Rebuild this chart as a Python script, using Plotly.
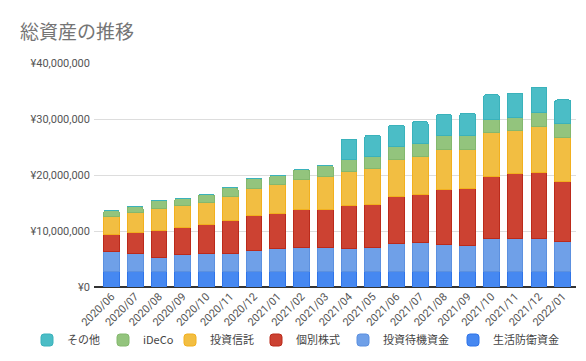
import plotly.graph_objects as go

months = ["2020/06", "2020/07", "2020/08", "2020/09", "2020/10", "2020/11", "2020/12",
          "2021/01", "2021/02", "2021/03", "2021/04", "2021/05", "2021/06", "2021/07",
          "2021/08", "2021/09", "2021/10", "2021/11", "2021/12", "2022/01"]

# values in yen
seikatsu = [2.75e6] * 20
taiki = [3.55e6, 3.32e6, 2.45e6, 3.02e6, 3.32e6, 3.32e6, 3.85e6, 4.09e6, 4.25e6, 4.25e6,
         4.21e6, 4.39e6, 4.95e6, 5.15e6, 4.80e6, 4.75e6, 6.00e6, 6.00e6, 6.00e6, 5.45e6]
kobetsu = [3.10e6, 3.73e6, 4.90e6, 4.93e6, 5.18e6, 5.73e6, 6.20e6, 6.36e6, 6.90e6, 6.90e6,
           7.64e6, 7.61e6, 8.40e6, 8.60e6, 9.95e6, 10.05e6, 11.05e6, 11.45e6, 11.75e6, 10.70e6]
toshin = [3.20e6, 3.50e6, 3.90e6, 3.90e6, 3.80e6, 4.30e6, 4.75e6, 5.10e6, 5.30e6, 5.80e6,
          6.10e6, 6.50e6, 6.75e6, 6.80e6, 7.10e6, 7.05e6, 7.75e6, 7.70e6, 8.10e6, 7.80e6]
ideco = [1.00e6, 1.00e6, 1.40e6, 1.20e6, 1.45e6, 1.60e6, 1.75e6, 1.60e6, 1.80e6, 2.00e6,
         2.10e6, 2.05e6, 2.20e6, 2.30e6, 2.40e6, 2.50e6, 2.45e6, 2.45e6, 2.65e6, 2.50e6]
sonota = [0, 0, 0, 0, 0, 0, 0, 0, 0, 0,
          3.60e6, 3.80e6, 3.85e6, 3.90e6, 3.80e6, 3.90e6, 4.30e6, 4.25e6, 4.45e6, 4.20e6]

y_tickvals = [0, 1e7, 2e7, 3e7, 4e7]
y_ticktext = ["¥0", "¥10,000,000", "¥20,000,000", "¥30,000,000", "¥40,000,000"]

series = [
    ("生活防衛資金", seikatsu, "#4688F1", "#2F74E8"),
    ("投資待機資金", taiki, "#6FA0E8", "#5C90DF"),
    ("個別株式", kobetsu, "#CC4232", "#BB2A1A"),
    ("投資信託", toshin, "#F2BE42", "#F2B01E"),
    ("iDeCo", ideco, "#93C47D", "#84B86E"),
    ("その他", sonota, "#4BBDC6", "#3AB2BB"),
]
# left x (px) of each legend swatch, in the same order as series
legend_left = [470, 360, 273, 187, 120, 44]

fig = go.Figure()
legend_layout = {}
for i, ((name, vals, col, line), lx) in enumerate(zip(series, legend_left)):
    key = "legend" if i == 0 else f"legend{i + 1}"
    fig.add_trace(go.Bar(
        x=months, y=vals, name=name, legend=key,
        marker=dict(color=col, line=dict(color=line, width=1)),
        hovertemplate="%{x}<br>" + name + ": ¥%{y:,.0f}<extra></extra>",
    ))
    legend_layout[key] = dict(
        orientation="h", x=(lx - 25) / 586, xref="container", xanchor="left",
        y=1 - 332 / 361, yref="container", yanchor="middle",
        font=dict(family="Noto Sans CJK JP, Roboto, sans-serif", size=11, color="#444444"),
        bgcolor="rgba(0,0,0,0)", itemwidth=30,
    )

fig.update_layout(
    width=586, height=361,
    barmode="stack", bargap=0.345, barcornerradius=2,
    paper_bgcolor="white", plot_bgcolor="white",
    font=dict(family="Roboto, Noto Sans CJK JP, sans-serif", size=11, color="#555555"),
    title=dict(text="総資産の推移", x=12 / 586, xref="container", xanchor="left",
               y=1 - 24 / 361, yref="container", yanchor="middle",
               font=dict(family="Noto Sans CJK JP, sans-serif", size=19, color="#757575")),
    margin=dict(l=86, r=18, t=55, b=82),
    showlegend=True,
    xaxis=dict(range=[-0.738, 19.56], tickangle=-45, showgrid=False, automargin=False,
               showline=False, ticks="",
               tickfont=dict(size=11, color="#555555")),
    yaxis=dict(range=[0, 40e6], tickvals=y_tickvals, ticktext=y_ticktext, automargin=False,
               showgrid=True, gridcolor="#dddddd", ticklabelstandoff=3,
               gridwidth=1, zeroline=True, zerolinecolor="#333333", zerolinewidth=2,
               ticks="", ticklen=0, tickfont=dict(size=11, color="#555555")),
    **legend_layout,
)

fig.write_html("out.html")
